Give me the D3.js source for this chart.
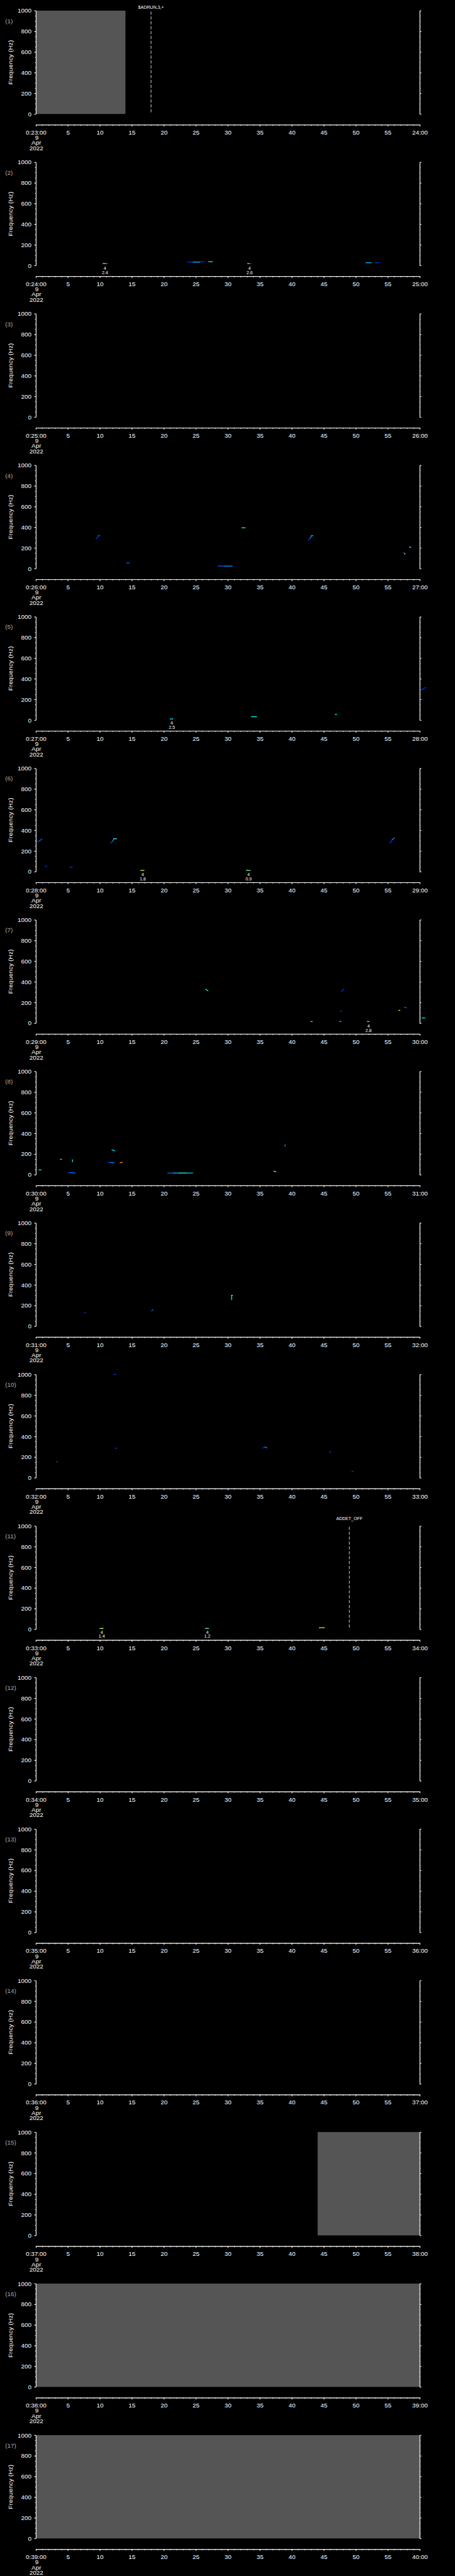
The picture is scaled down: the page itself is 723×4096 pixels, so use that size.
<!DOCTYPE html>
<html>
<head>
<meta charset="utf-8">
<script src="https://cdn.jsdelivr.net/npm/d3@7"></script>
<style>
  body { margin: 0; background: #000; }
  svg { display: block; }
</style>
</head>
<body>
<div id="wrapper"></div>
<script>

// 1. Data

// minute of each panel (0:MM:00 -> MM+1:00), 9 Apr 2022
const startMinutes = [23, 24, 25, 26, 27, 28, 29, 30, 31, 32, 33, 34, 35, 36, 37, 38, 39]
const dateLines = ["9", "Apr", "2022"]

const secondTicks = [0, 5, 10, 15, 20, 25, 30, 35, 40, 45, 50, 55, 60]
const freqTicks = [0, 200, 400, 600, 800, 1000]

// grey "no data" spans: [panel, from s, to s]
const noDataSpans = [
  [1, 0, 14],
  [15, 44, 60],
  [16, 0, 60],
  [17, 0, 60],
]

// command markers: dashed line + label
const events = [
  { panel: 1, t: 18, label: "$ADRUN,3,+" },
  { panel: 11, t: 49, label: "ADDET_OFF" },
]

// spectrogram traces, points are [seconds, Hz, intensity 0..1]
const tracks = [
  { panel: 2, pts: [[10.5, 19, 0.8], [10.75, 19, 0.45], [11.1, 19, 0.3]] },
  { panel: 2, pts: [[23.7, 33, 0.3], [24.6, 33, 0.45], [25.6, 33, 0.4], [25.6, 37, 0.3], [26.3, 37, 0.3]] },
  { panel: 2, pts: [[27.0, 37, 0.5], [27.6, 37, 0.45]] },
  { panel: 2, pts: [[33.1, 19, 0.8], [33.4, 19, 0.3], [33.7, 19, 0.3]] },
  { panel: 2, pts: [[51.6, 27, 0.45], [52.4, 27, 0.45]] },
  { panel: 2, pts: [[53.1, 27, 0.3], [53.6, 27, 0.3]] },

  { panel: 4, pts: [[9.4, 290, 0.3], [9.6, 298, 0.3], [9.75, 318, 0.35], [10.0, 318, 0.4]] },
  { panel: 4, pts: [[14.2, 55, 0.35], [14.6, 55, 0.35]] },
  { panel: 4, pts: [[28.5, 24, 0.35], [29.5, 24, 0.4], [30.7, 24, 0.4]] },
  { panel: 4, pts: [[32.2, 395, 0.5], [32.7, 395, 0.55]] },
  { panel: 4, pts: [[42.6, 274, 0.3], [42.9, 295, 0.4], [43.1, 318, 0.45], [43.3, 318, 0.45]] },
  { panel: 4, pts: [[57.45, 158, 0.3], [57.6, 145, 0.55], [57.7, 141, 0.6]] },
  { panel: 4, pts: [[58.4, 210, 0.5], [58.6, 205, 0.6]] },

  { panel: 5, pts: [[21.0, 11, 0.5], [21.4, 11, 0.35]] },
  { panel: 5, pts: [[33.7, 33, 0.5], [34.5, 33, 0.4]] },
  { panel: 5, pts: [[46.8, 55, 0.5], [47.0, 55, 0.5]] },
  { panel: 5, pts: [[60.2, 292, 0.3], [60.5, 300, 0.3], [60.9, 315, 0.35]] },

  { panel: 6, pts: [[0.2, 292, 0.3], [0.5, 295, 0.35], [0.95, 315, 0.45]] },
  { panel: 6, pts: [[1.5, 52, 0.3], [1.7, 52, 0.3]] },
  { panel: 6, pts: [[5.3, 42, 0.3], [5.7, 42, 0.3]] },
  { panel: 6, pts: [[11.7, 275, 0.3], [12.0, 295, 0.4], [12.2, 318, 0.55], [12.6, 318, 0.6]] },
  { panel: 6, pts: [[16.4, 12, 0.7], [16.9, 12, 0.6]] },
  { panel: 6, pts: [[32.9, 12, 0.6], [33.5, 12, 0.3]] },
  { panel: 6, pts: [[55.4, 275, 0.3], [55.7, 310, 0.4], [56.0, 325, 0.45]] },

  { panel: 7, pts: [[26.55, 328, 0.5], [26.9, 313, 0.45]] },
  { panel: 7, pts: [[43.0, 16, 0.5], [43.2, 16, 0.5]] },
  { panel: 7, pts: [[47.5, 16, 0.45], [47.7, 16, 0.4]] },
  { panel: 7, pts: [[47.6, 115, 0.3], [47.8, 115, 0.3]] },
  { panel: 7, pts: [[47.8, 306, 0.3], [48.1, 328, 0.45]] },
  { panel: 7, pts: [[51.8, 16, 0.5], [52.1, 16, 0.5]] },
  { panel: 7, pts: [[56.7, 124, 0.8], [56.9, 124, 0.75]] },
  { panel: 7, pts: [[57.6, 155, 0.35], [57.9, 149, 0.3]] },
  { panel: 7, pts: [[60.4, 50, 0.5], [60.8, 50, 0.5]] },

  { panel: 8, pts: [[0.5, 46, 0.5], [0.8, 46, 0.5]] },
  { panel: 8, pts: [[3.85, 149, 0.8], [4.0, 149, 0.8]] },
  { panel: 8, pts: [[5.7, 144, 0.5], [5.75, 126, 0.5]] },
  { panel: 8, pts: [[5.0, 16, 0.3], [5.3, 20, 0.35], [5.6, 20, 0.4], [6.1, 16, 0.3]] },
  { panel: 8, pts: [[11.9, 241, 0.5], [12.3, 231, 0.3]] },
  { panel: 8, pts: [[11.3, 121, 0.3], [11.7, 117, 0.4], [12.2, 115, 0.3]] },
  { panel: 8, pts: [[13.2, 115, 0.85], [13.5, 120, 0.85]] },
  { panel: 8, pts: [[20.6, 16, 0.35], [21.5, 16, 0.45], [22.5, 16, 0.55], [23.5, 16, 0.45], [24.5, 16, 0.3]] },
  { panel: 8, pts: [[37.2, 33, 0.6], [37.5, 29, 0.55]] },
  { panel: 8, pts: [[38.9, 277, 0.4], [39.0, 289, 0.45]] },

  { panel: 9, pts: [[7.6, 127, 0.3], [7.75, 136, 0.3]] },
  { panel: 9, pts: [[18.1, 149, 0.35], [18.3, 161, 0.4]] },
  { panel: 9, pts: [[30.6, 256, 0.5], [30.6, 299, 0.5], [30.75, 299, 0.5]] },

  { panel: 10, pts: [[12.2, 1000, 0.3], [12.45, 1000, 0.35]] },
  { panel: 10, pts: [[3.2, 154, 0.3], [3.4, 154, 0.3]] },
  { panel: 10, pts: [[12.4, 286, 0.3], [12.6, 286, 0.3]] },
  { panel: 10, pts: [[35.4, 286, 0.3], [35.8, 298, 0.4], [36.1, 290, 0.35]] },
  { panel: 10, pts: [[45.9, 250, 0.3], [46.1, 250, 0.3]] },
  { panel: 10, pts: [[49.4, 62, 0.3], [49.6, 62, 0.3]] },

  { panel: 11, pts: [[10.0, 8, 0.6], [10.3, 8, 0.75], [10.5, 8, 0.4]] },
  { panel: 11, pts: [[26.5, 8, 0.6], [26.8, 8, 0.5], [27.0, 8, 0.4]] },
  { panel: 11, pts: [[44.3, 15, 0.65], [45.1, 15, 0.7]] },
]

// little two-line notes under some traces
const noteTop = "4"
const notes = [
  { panel: 2, t: 10.8, value: "2.4" },
  { panel: 2, t: 33.4, value: "2.6" },
  { panel: 5, t: 21.25, value: "2.5" },
  { panel: 6, t: 16.7, value: "1.8" },
  { panel: 6, t: 33.25, value: "0.9" },
  { panel: 7, t: 52.0, value: "2.8" },
  { panel: 11, t: 10.3, value: "1.4" },
  { panel: 11, t: 26.8, value: "1.2" },
]

drawPanels()

function drawPanels() {

  // 2. Dimensions (reference pixels, scaled down by the viewBox)
  const dimensions = {
    width: 1024,
    height: 5802,
    pitch: 5802 / 17,
    margin: { top: 24, left: 80.7 },
    boundedWidth: 864,
    boundedHeight: 232.7,
    axisOffset: 257,
  }
  const font = "'Liberation Sans', Arial, sans-serif"

  // 3. Canvas
  const wrapper = d3.select("#wrapper")
    .append("svg")
      .attr("width", 723)
      .attr("height", 4096)
      .attr("viewBox", `0 0 ${dimensions.width} ${dimensions.height}`)
      .style("background", "#000")

  // 4. Scales
  const xScale = d3.scaleLinear()
    .domain([0, 60])
    .range([0, dimensions.boundedWidth])

  const yScale = d3.scaleLinear()
    .domain([0, 1000])
    .range([dimensions.boundedHeight, 0])

  const colorScale = d3.scaleLinear()
    .domain([0, 0.25, 0.5, 0.75, 1])
    .range(["#00008f", "#0000ff", "#00ffff", "#ffff00", "#ff0000"])
    .interpolate(d3.interpolateRgb)

  startMinutes.forEach((minute, i) => {
    const panelNo = i + 1
    const panelTop = dimensions.margin.top + i * dimensions.pitch

    const bounds = wrapper.append("g")
        .attr("transform", `translate(${dimensions.margin.left}, ${panelTop})`)

    // 5. Data marks
    noDataSpans.filter(d => d[0] === panelNo).forEach(d => {
      bounds.append("rect")
          .attr("x", xScale(d[1]) + 0.6)
          .attr("y", yScale(1000))
          .attr("width", xScale(d[2]) - xScale(d[1]) - 0.6)
          .attr("height", yScale(0) - yScale(1000))
          .attr("fill", "#555555")
    })

    tracks.filter(d => d.panel === panelNo).forEach(tr => {
      const segs = d3.pairs(tr.pts)
      bounds.append("g").selectAll("line")
        .data(segs)
        .join("line")
          .attr("x1", d => xScale(d[0][0]))
          .attr("y1", d => yScale(d[0][1]))
          .attr("x2", d => xScale(d[1][0]))
          .attr("y2", d => yScale(d[1][1]))
          .attr("stroke", d => colorScale(d[0][2]))
          .attr("stroke-width", 1.8)
          .attr("stroke-linecap", "square")
    })

    notes.filter(d => d.panel === panelNo).forEach(d => {
      const g = bounds.append("g")
          .attr("font-family", font)
          .attr("font-size", 10)
          .attr("fill", "#fff")
          .attr("text-anchor", "middle")
      g.append("text")
          .attr("x", xScale(d.t))
          .attr("y", dimensions.boundedHeight + 10)
          .text(noteTop)
      g.append("text")
          .attr("x", xScale(d.t))
          .attr("y", dimensions.boundedHeight + 19.5)
          .text(d.value)
    })

    events.filter(d => d.panel === panelNo).forEach(d => {
      bounds.append("line")
          .attr("x1", xScale(d.t))
          .attr("x2", xScale(d.t))
          .attr("y1", 2)
          .attr("y2", dimensions.boundedHeight)
          .attr("stroke", "#fff")
          .attr("stroke-width", 1.2)
          .attr("stroke-dasharray", "7 4")
      bounds.append("text")
          .attr("x", xScale(d.t))
          .attr("y", Math.max(-13, 20 - panelTop))
          .attr("text-anchor", "middle")
          .attr("font-family", font)
          .attr("font-size", 10)
          .attr("fill", "#fff")
          .text(d.label)
    })

    // 6. Peripherals
    const styleAxis = g => {
      g.selectAll("path, line").attr("stroke", "#fff").attr("stroke-width", 1.2)
      g.selectAll("text").attr("fill", "#fff")
      g.attr("font-family", font).attr("font-size", 14)
    }

    // y axes, left with labels and right without
    bounds.append("g")
        .call(d3.axisLeft(yScale).tickValues(d3.range(0, 1001, 50)).tickSize(2).tickSizeOuter(0).tickFormat(""))
        .call(styleAxis)
    bounds.append("g")
        .call(d3.axisLeft(yScale).tickValues(freqTicks).tickSize(4).tickSizeOuter(0).tickPadding(6)
          .tickFormat(d3.format("d")))
        .call(styleAxis)

    const rightAxis = bounds.append("g")
        .attr("transform", `translate(${dimensions.boundedWidth}, 0)`)
    rightAxis.append("g")
        .call(d3.axisRight(yScale).tickValues(d3.range(0, 1001, 50)).tickSize(2).tickSizeOuter(0).tickFormat(""))
        .call(styleAxis)
    rightAxis.append("g")
        .call(d3.axisRight(yScale).tickValues(freqTicks).tickSize(4).tickSizeOuter(0).tickFormat(""))
        .call(styleAxis)

    // x axis, seconds in the minute
    const xAxis = bounds.append("g")
        .attr("transform", `translate(0, ${dimensions.axisOffset})`)
    xAxis.append("g")
        .call(d3.axisBottom(xScale).tickValues(d3.range(0, 61, 1)).tickSize(2.5).tickSizeOuter(0).tickFormat(""))
        .call(styleAxis)
    xAxis.append("g")
        .call(d3.axisBottom(xScale).tickValues(secondTicks).tickSize(4).tickSizeOuter(0).tickPadding(8.5)
          .tickFormat(d => d === 0 ? `0:${minute}:00` : d === 60 ? `${minute + 1}:00` : d))
        .call(styleAxis)

    const dateLabel = xAxis.append("g")
        .attr("font-family", font)
        .attr("font-size", 14)
        .attr("fill", "#fff")
        .attr("text-anchor", "middle")
    dateLines.forEach((txt, k) => {
      dateLabel.append("text")
          .attr("x", xScale(0) + (k === 0 ? 2 : 1))
          .attr("y", [34, 45.5, 57.5][k])
          .text(txt)
    })

    // panel number and y title
    bounds.append("text")
        .attr("x", -69)
        .attr("y", 28)
        .attr("font-family", font)
        .attr("font-size", 14)
        .attr("fill", "#aaaaaa")
        .text(`(${panelNo})`)

    bounds.append("text")
        .attr("transform", `translate(-57.4, ${dimensions.boundedHeight / 2}) rotate(-90)`)
        .attr("text-anchor", "middle")
        .attr("dy", "0.35em")
        .attr("font-family", font)
        .attr("font-size", 14)
        .attr("letter-spacing", 0.3)
        .attr("fill", "#fff")
        .text("Frequency (Hz)")
  })
}
</script>
</body>
</html>
